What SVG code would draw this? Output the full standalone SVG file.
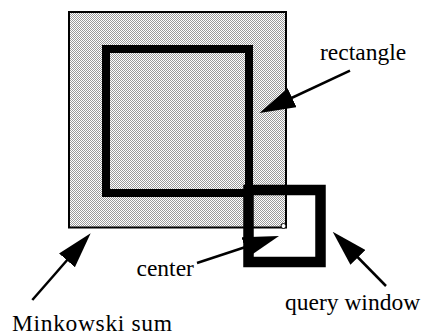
<svg xmlns="http://www.w3.org/2000/svg" width="424" height="334" viewBox="0 0 424 334">
<style>
text{font-family:"Liberation Serif","Times New Roman",serif;font-size:23.5px;fill:#000}
.conn{stroke:#000;stroke-width:2.5;fill:none;marker-end:url(#ah)}
</style>
<defs>
<pattern id="hatch" patternUnits="userSpaceOnUse" width="2" height="2">
<rect width="2" height="2" fill="#fff"/>
<rect width="1" height="1" fill="#9a9a9a"/>
<rect x="1" y="1" width="1" height="1" fill="#9a9a9a"/>
</pattern>
<marker id="ah" markerUnits="userSpaceOnUse" viewBox="0 0 36 21" refX="16" refY="10.5" markerWidth="36" markerHeight="21" orient="auto">
<path d="M0,0 L36,10.5 L0,21 Z" fill="#000"/>
</marker>
</defs>
<g id="minkowski-sum">
<rect x="69" y="12" width="217" height="215.5" fill="url(#hatch)" stroke="#000" stroke-width="2"/>
</g>
<g id="rectangle">
<rect x="106" y="49" width="143" height="144" fill="none" stroke="#000" stroke-width="8"/>
</g>
<g id="query-window">
<rect x="248.5" y="190" width="72" height="72" fill="none" stroke="#000" stroke-width="10.5"/>
</g>
<g id="center">
<circle cx="283.5" cy="226" r="2.5" fill="#fff" stroke="#000" stroke-width="1"/>
</g>
<g id="connectors">
<line class="conn" x1="350" y1="70.7" x2="277.6" y2="104.5"/>
<line class="conn" x1="386" y1="286" x2="346.7" y2="246"/>
<line class="conn" x1="32.3" y1="300" x2="77.5" y2="248.3"/>
<line class="conn" x1="197" y1="263" x2="260" y2="242.3"/>
</g>
<g id="labels">
<text x="320" y="59.5">rectangle</text>
<text x="285" y="309.5">query window</text>
<text x="136.5" y="275.5">center</text>
<text x="12" y="330.5" textLength="160" lengthAdjust="spacing">Minkowski sum</text>
</g>
</svg>
